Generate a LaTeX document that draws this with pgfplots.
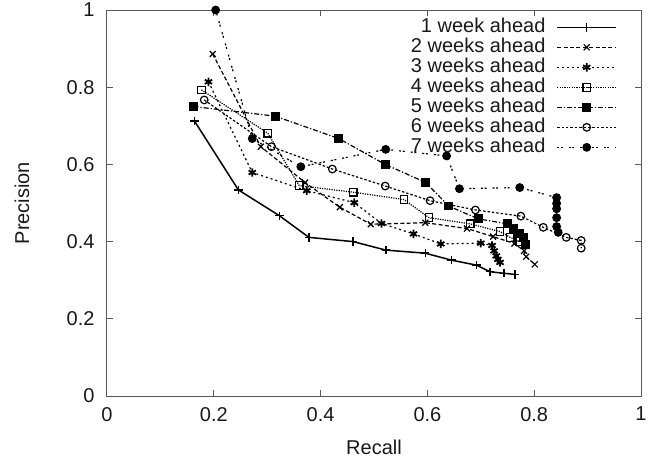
\documentclass[border=0pt]{standalone}
\usepackage{fontspec}
\setmainfont{Liberation Sans}
\usepackage{pgfplots}
\pgfplotsset{compat=1.18}
\begin{document}
\begin{tikzpicture}
\useasboundingbox (-53.5pt,-33.5pt) rectangle (272.5pt,198pt);
\begin{axis}[
  scale only axis, width=267pt, height=193pt, at={(0,0)}, anchor=south west,
  xmin=0, xmax=1, ymin=0, ymax=1,
  xtick={0,0.2,0.4,0.6,0.8,1}, ytick={0,0.2,0.4,0.6,0.8,1},
  tick align=inside, major tick length=3pt,
  axis line style={black!65, line width=0.5pt},
  tick style={black!65, line width=0.5pt},
  /pgf/number format/assume math mode=true,
  font=\fontsize{10}{12}\selectfont,
  ticklabel style={font=\fontsize{10}{12}\selectfont, text=black!90},
  xticklabel style={yshift=-2pt},
  yticklabel style={xshift=-2.7pt},
  xlabel={Recall}, ylabel={Precision},
  xlabel style={at={(axis description cs:0.5,-0.132)}, anchor=center, font=\fontsize{10}{12}\selectfont, text=black!90},
  ylabel style={at={(axis description cs:-0.159,0.5)}, anchor=center, font=\fontsize{10}{12}\selectfont, text=black!90},
  legend style={at={(axis description cs:0.955,0.981)}, anchor=north east,
    draw=none, fill=none, inner sep=0pt, outer sep=0pt, row sep=0pt,
    nodes={inner sep=0pt, text height=7.5pt, text depth=2.5pt, font=\fontsize{10}{12}\selectfont, text=black!90},
    /tikz/every odd column/.append style={column sep=5.5pt}},
  legend plot pos=right, legend cell align=right,
  legend image code/.code={\draw[mark repeat=2,mark phase=2,#1] plot coordinates {(0pt,0pt) (14.75pt,0pt) (29.5pt,0pt)};},
  every axis plot/.append style={black, line width=0.6pt, mark size=2.1pt},
]
\addplot[solid, line width=0.75pt, mark=+, mark options={solid}] coordinates {
(0.164,0.712)(0.246,0.534)(0.323,0.467)(0.378,0.411)(0.461,0.400)(0.522,0.378)(0.596,0.370)(0.645,0.352)(0.692,0.339)(0.717,0.322)(0.743,0.318)(0.764,0.315)};
\addlegendentry{1 week ahead}
\addplot[dash pattern=on 2pt off 1.2pt, mark=x, mark options={solid}] coordinates {
(0.198,0.886)(0.288,0.646)(0.371,0.553)(0.436,0.489)(0.494,0.445)(0.596,0.449)(0.674,0.434)(0.723,0.413)(0.763,0.395)(0.781,0.376)(0.785,0.361)(0.801,0.341)};
\addlegendentry{2 weeks ahead}
\addplot[dash pattern=on 1pt off 1.5pt, mark=asterisk, mark options={solid, line width=0.9pt}] coordinates {
(0.190,0.814)(0.272,0.579)(0.374,0.532)(0.463,0.501)(0.514,0.447)(0.574,0.420)(0.625,0.394)(0.700,0.396)(0.721,0.390)(0.725,0.376)(0.729,0.363)(0.732,0.354)(0.736,0.346)};
\addlegendentry{3 weeks ahead}
\addplot[dash pattern=on 0.6pt off 0.6pt, mark=square, mark options={solid, mark size=1.9pt}] coordinates {
(0.177,0.793)(0.301,0.681)(0.360,0.545)(0.461,0.528)(0.556,0.509)(0.603,0.462)(0.680,0.446)(0.736,0.426)(0.755,0.411)(0.773,0.400)};
\addlegendentry{4 weeks ahead}
\addplot[dash pattern=on 2.5pt off 1pt on 0.6pt off 1pt, mark=square*, mark options={solid, mark size=1.9pt}] coordinates {
(0.162,0.750)(0.315,0.725)(0.434,0.667)(0.521,0.600)(0.597,0.553)(0.640,0.492)(0.695,0.459)(0.750,0.446)(0.761,0.433)(0.772,0.421)(0.780,0.410)(0.784,0.393)};
\addlegendentry{5 weeks ahead}
\addplot[dash pattern=on 1.2pt off 1pt, mark=o, mark options={solid, mark size=1.9pt}] coordinates {
(0.182,0.767)(0.308,0.646)(0.422,0.588)(0.521,0.544)(0.605,0.506)(0.690,0.482)(0.775,0.466)(0.817,0.437)(0.860,0.411)(0.888,0.403)(0.888,0.383)};
\addlegendentry{6 weeks ahead}
\addplot[dash pattern=on 1pt off 0.8pt on 1pt off 3pt, mark=*, mark options={solid, mark size=1.9pt}] coordinates {
(0.2035,1.0)(0.272,0.667)(0.363,0.594)(0.522,0.639)(0.636,0.622)(0.660,0.537)(0.773,0.540)(0.842,0.514)(0.842,0.499)(0.842,0.485)(0.842,0.462)(0.842,0.439)(0.845,0.424)};
\addlegendentry{7 weeks ahead}
\end{axis}
\end{tikzpicture}
\end{document}
